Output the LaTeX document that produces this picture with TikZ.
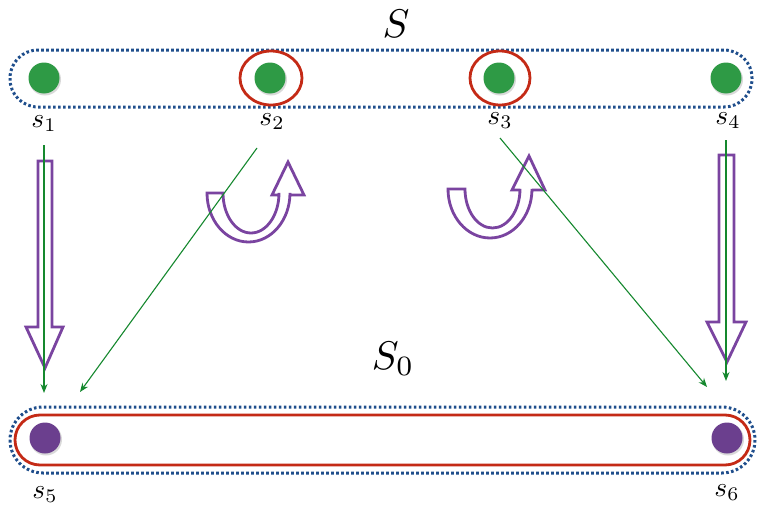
\documentclass[tikz,border=0pt]{standalone}
\usetikzlibrary{arrows.meta}
\definecolor{dotblue}{HTML}{1F4E8C}
\definecolor{capred}{HTML}{C42A16}
\definecolor{dotgreen}{HTML}{2E9A45}
\definecolor{lngreen}{HTML}{15882E}
\definecolor{hpurple}{HTML}{7A44A0}
\definecolor{dotpurple}{HTML}{6B3F8E}
\begin{document}
\begin{tikzpicture}[x=1pt,y=-1pt,
  gdot/.style={circle,fill=dotgreen,minimum size=31pt,inner sep=0pt},
  pdot/.style={circle,fill=dotpurple,minimum size=31pt,inner sep=0pt},
  shade/.style={circle,fill=black!15,minimum size=32pt,inner sep=0pt},
  lbl/.style={inner sep=0pt,scale=2.75},
  biglbl/.style={inner sep=0pt,scale=4},
  dotcap/.style={draw=dotblue,line width=3pt,dash pattern=on 2.6pt off 2.4pt},
  redline/.style={draw=capred,line width=2.8pt},
  garrow/.style={draw=lngreen,line width=1.1pt,-{Stealth[length=9pt,width=7pt]}},
  hollow/.style={draw=hpurple,line width=2.8pt,fill=white,line join=miter}]
\useasboundingbox (0,0) rectangle (758,506);
% capsules
\draw[dotcap,rounded corners=28pt] (10,50) rectangle (752,107);
\draw[dotcap,rounded corners=33pt] (10,407) rectangle (755,473);
\draw[redline,rounded corners=25pt] (15,415) rectangle (750,465);
% red circles
\draw[redline] (271,78) ellipse [x radius=31pt,y radius=27pt];
\draw[redline] (500,78) ellipse [x radius=30pt,y radius=27pt];
% dots with light shadow
\foreach \x in {44,270,499,726}{\node[shade] at (\x+1,79.5) {};}
\foreach \x in {45,727}{\node[shade] at (\x+1,439.5) {};}
\node[gdot] (d1) at (44,78) {};
\node[gdot] (d2) at (270,78) {};
\node[gdot] (d3) at (499,78) {};
\node[gdot] (d4) at (726,78) {};
\node[pdot] (d5) at (45,438) {};
\node[pdot] (d6) at (727,438) {};
% labels
\node[biglbl] (S) at (396,24) {$S$};
\node[biglbl] (S0) at (393,359) {$S_0$};
\node[lbl] (l1) at (44,124) {$s_1$};
\node[lbl] (l2) at (272,122) {$s_2$};
\node[lbl] (l3) at (500,121) {$s_3$};
\node[lbl] (l4) at (728,121) {$s_4$};
\node[lbl] (l5) at (45,495) {$s_5$};
\node[lbl] (l6) at (727,493) {$s_6$};
% hollow straight arrows
\draw[hollow] (38,161) -- (52,161) -- (52,327) -- (63,327) -- (45,368) -- (26,327) -- (38,327) -- cycle;
\draw[hollow] (719,155) -- (734,155) -- (734,322) -- (746,322) -- (727,362) -- (707,322) -- (719,322) -- cycle;
% hollow U-turn arrows
\draw[hollow] (207,193) arc[start angle=180,end angle=360,x radius=41.5pt,y radius=49pt]
  -- (290,195) -- (304,195) -- (288,162) -- (272,195) -- (279,195) -- (279,193)
  arc[start angle=0,end angle=-180,x radius=28pt,y radius=40pt] -- cycle;
\draw[hollow] (448,189) arc[start angle=180,end angle=360,x radius=42pt,y radius=49pt]
  -- (532,190) -- (545,190) -- (529,156) -- (512,190) -- (520,190) -- (520,189)
  arc[start angle=0,end angle=-180,x radius=27.5pt,y radius=39pt] -- cycle;
% green arrows
\coordinate (a1) at (44,145); \coordinate (b1) at (44,393);
\coordinate (a2) at (257,148); \coordinate (b2) at (80,392);
\coordinate (a3) at (500,138); \coordinate (b3) at (707,387);
\coordinate (a4) at (726,140); \coordinate (b4) at (726,381);
\draw[garrow] (a1) -- (b1);
\draw[garrow] (a2) -- (b2);
\draw[garrow] (a3) -- (b3);
\draw[garrow] (a4) -- (b4);
\end{tikzpicture}
\end{document}
